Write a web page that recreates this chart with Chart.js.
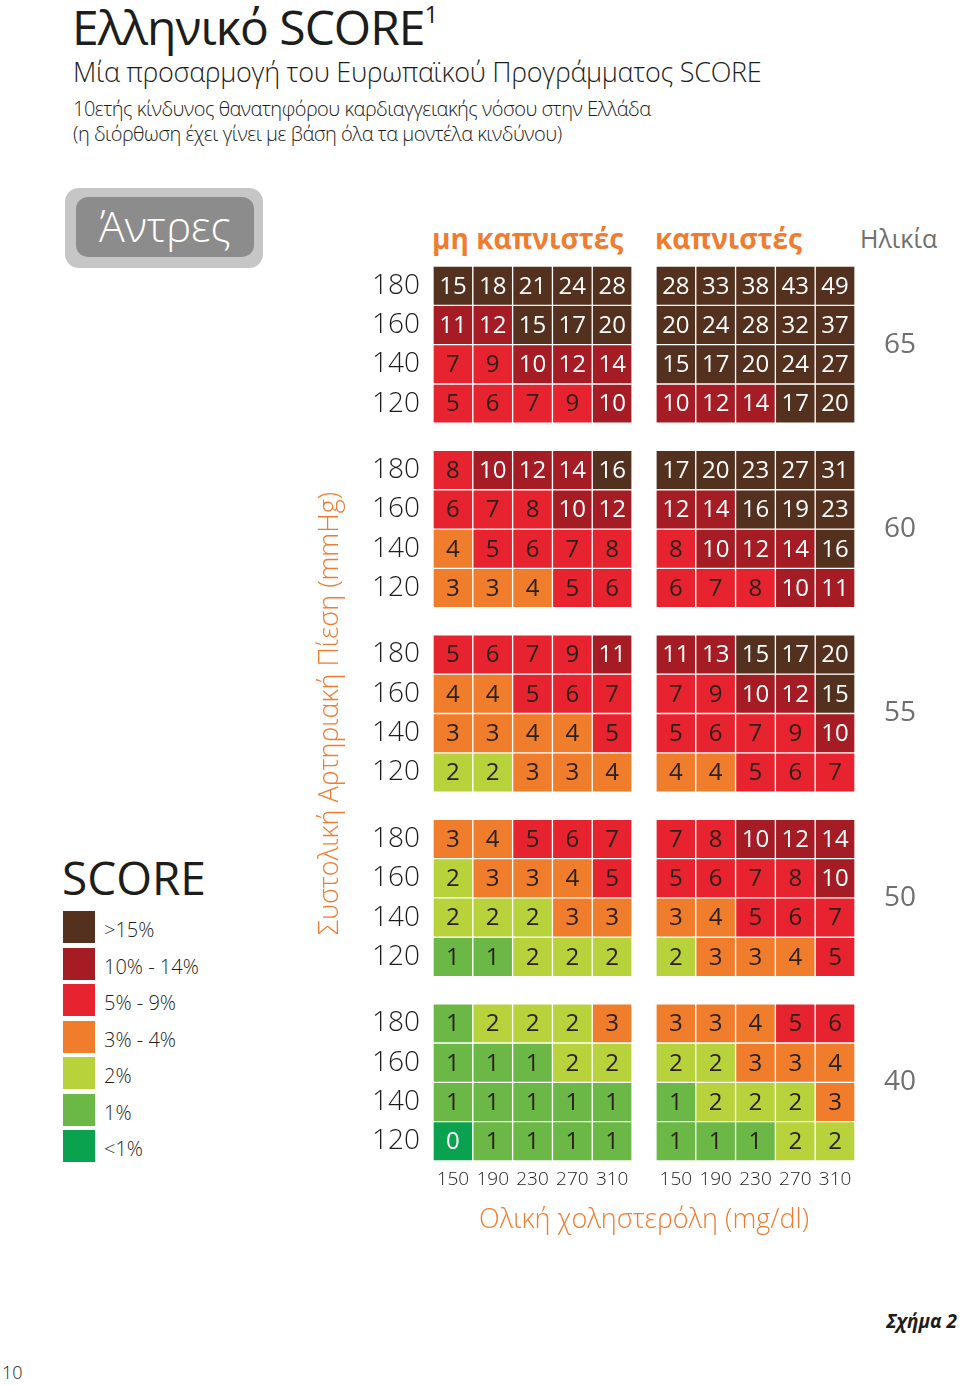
<!DOCTYPE html>
<html>
<head>
<meta charset="utf-8">
<script src="https://cdn.jsdelivr.net/npm/chart.js@4.4.1/dist/chart.umd.min.js"></script>
<style>
  body { margin: 0; background: #fff; font-family: "Open Sans", "Noto Sans", sans-serif; }
  #page { position: relative; width: 960px; height: 1385px; overflow: hidden; }
  .abs { position: absolute; white-space: nowrap; }
  #title { left: 72px; top: -6px; font-size: 48px; color: #1d1d1b; letter-spacing: -1px; }
  #title sup { font-size: 24px; vertical-align: 22px; }
  #sub1 { left: 73px; top: 53px; font-size: 27px; font-weight: 300; color: #1d1d1b; letter-spacing: -0.3px; }
  #sub2 { left: 73px; top: 96px; font-size: 20px; font-weight: 300; color: #1d1d1b; line-height: 25px; letter-spacing: -0.5px; }
  #badgeBack { left: 65px; top: 188px; width: 198px; height: 80px; border-radius: 14px; background: #c6c6c6; }
  #badge { left: 76px; top: 197px; width: 178px; height: 60px; border-radius: 12px; background: #8c8c8c;
           color: #fff; font-size: 43px; font-weight: 300; text-align: center; line-height: 58px; }
  .head { top: 219px; font-size: 28px; font-weight: 700; color: #ee7d31; }
  #age { left: 860px; top: 221px; font-size: 25px; color: #6f6f6e; }
  #scoreTitle { left: 62px; top: 846px; font-size: 46px; color: #1d1d1b; }
  #legend { left: 63px; top: 911px; }
  .li { height: 36.5px; display: flex; align-items: flex-start; }
  .sw { width: 32px; height: 32px; }
  .lt { margin-left: 9px; font-size: 20px; font-weight: 300; color: #1d1d1b; line-height: 32px; margin-top: 3px; }
  #fig { right: 3px; top: 1308px; font-size: 19px; font-weight: 700; font-style: italic; color: #1d1d1b; }
  #pageNo { left: 2px; top: 1360px; font-size: 18px; font-weight: 300; color: #1d1d1b; }
  #chartBox { position: absolute; left: 300px; top: 262px; width: 660px; height: 979px; }
</style>
</head>
<body>
<div id="page">
  <div id="title" class="abs">Ελληνικό SCORE<sup>1</sup></div>
  <div id="sub1" class="abs">Μία προσαρμογή του Ευρωπαϊκού Προγράμματος SCORE</div>
  <div id="sub2" class="abs">10ετής κίνδυνος θανατηφόρου καρδιαγγειακής νόσου στην Ελλάδα<br>(η διόρθωση έχει γίνει με βάση όλα τα μοντέλα κινδύνου)</div>
  <div id="badgeBack" class="abs"></div>
  <div id="badge" class="abs">Άντρες</div>
  <div class="abs head" style="left:432px">μη καπνιστές</div>
  <div class="abs head" style="left:655px">καπνιστές</div>
  <div id="age" class="abs">Ηλικία</div>
  <div id="scoreTitle" class="abs">SCORE</div>
  <div id="legend" class="abs"></div>
  <div id="fig" class="abs">Σχήμα 2</div>
  <div id="pageNo" class="abs">10</div>
  <div id="chartBox"><canvas id="scoreChart"></canvas></div>
</div>
<script>
// axis labels
const cholesterol = ['150', '190', '230', '270', '310'];
const systolic = ['180', '160', '140', '120'];
const ages = ['65', '60', '55', '50', '40'];

// risk values (%) per age group, rows = 180..120 mmHg, cols = 150..310 mg/dl
const nonSmokers65 = [[15, 18, 21, 24, 28], [11, 12, 15, 17, 20], [7, 9, 10, 12, 14], [5, 6, 7, 9, 10]];
const smokers65 = [[28, 33, 38, 43, 49], [20, 24, 28, 32, 37], [15, 17, 20, 24, 27], [10, 12, 14, 17, 20]];
const nonSmokers60 = [[8, 10, 12, 14, 16], [6, 7, 8, 10, 12], [4, 5, 6, 7, 8], [3, 3, 4, 5, 6]];
const smokers60 = [[17, 20, 23, 27, 31], [12, 14, 16, 19, 23], [8, 10, 12, 14, 16], [6, 7, 8, 10, 11]];
const nonSmokers55 = [[5, 6, 7, 9, 11], [4, 4, 5, 6, 7], [3, 3, 4, 4, 5], [2, 2, 3, 3, 4]];
const smokers55 = [[11, 13, 15, 17, 20], [7, 9, 10, 12, 15], [5, 6, 7, 9, 10], [4, 4, 5, 6, 7]];
const nonSmokers50 = [[3, 4, 5, 6, 7], [2, 3, 3, 4, 5], [2, 2, 2, 3, 3], [1, 1, 2, 2, 2]];
const smokers50 = [[7, 8, 10, 12, 14], [5, 6, 7, 8, 10], [3, 4, 5, 6, 7], [2, 3, 3, 4, 5]];
const nonSmokers40 = [[1, 2, 2, 2, 3], [1, 1, 1, 2, 2], [1, 1, 1, 1, 1], [0, 1, 1, 1, 1]];
const smokers40 = [[3, 3, 4, 5, 6], [2, 2, 3, 3, 4], [1, 2, 2, 2, 3], [1, 1, 1, 2, 2]];

const nonSmokers = [nonSmokers65, nonSmokers60, nonSmokers55, nonSmokers50, nonSmokers40];
const smokers = [smokers65, smokers60, smokers55, smokers50, smokers40];

// legend
const legendLabels = ['>15%', '10% - 14%', '5% - 9%', '3% - 4%', '2%', '1%', '<1%'];
const legendColors = ['#54301f', '#a61c24', '#e6232e', '#ef7d2c', '#b7d23b', '#6cb846', '#0ba24f'];

const colorFor = v => {
  if (v >= 15) return legendColors[0];
  if (v >= 10) return legendColors[1];
  if (v >= 5) return legendColors[2];
  if (v >= 3) return legendColors[3];
  if (v >= 2) return legendColors[4];
  if (v >= 1) return legendColors[5];
  return legendColors[6];
};

const legendEl = document.getElementById('legend');
legendLabels.forEach((lab, i) => {
  const row = document.createElement('div');
  row.className = 'li';
  row.innerHTML = '<div class="sw" style="background:' + legendColors[i] + '"></div><div class="lt">' + lab + '</div>';
  legendEl.appendChild(row);
});

// grid geometry (in axis units): one cell = 1 unit
const GROUP = 4.69;       // vertical pitch between age blocks
const SMOKER_SHIFT = 5.6; // horizontal offset of the smokers block
const colX = [];
for (let c = 0; c < 5; c++) colX.push(c + 0.5);
for (let c = 0; c < 5; c++) colX.push(SMOKER_SHIFT + c + 0.5);
const rowCenters = [];
ages.forEach((a, g) => systolic.forEach((s, r) => rowCenters.push(g * GROUP + r + 0.5)));
const ageCenters = ages.map((a, g) => g * GROUP + 2);
const yMax = (ages.length - 1) * GROUP + 4;

const datasets = [];
ages.forEach((age, g) => {
  systolic.forEach((bp, r) => {
    const lo = g * GROUP + r;
    const values = nonSmokers[g][r].concat(smokers[g][r]);
    datasets.push({
      label: age + ' / ' + bp,
      data: values.map((v, i) => ({ x: colX[i], y: [lo, lo + 1], v: v })),
      backgroundColor: ctx => colorFor(ctx.raw ? ctx.raw.v : 0),
      borderColor: '#ffffff',
      borderWidth: 1,
      borderSkipped: false
    });
  });
});

// numbers written inside each cell
const cellLabels = {
  id: 'cellLabels',
  afterDatasetsDraw(chart) {
    const ctx = chart.ctx;
    ctx.save();
    ctx.font = '24px "Open Sans", "Noto Sans", sans-serif';
    ctx.textAlign = 'center';
    ctx.textBaseline = 'middle';
    chart.data.datasets.forEach((ds, di) => {
      chart.getDatasetMeta(di).data.forEach((bar, i) => {
        const v = ds.data[i].v;
        const p = bar.getCenterPoint();
        ctx.fillStyle = (v >= 10 || v < 1) ? '#ffffff' : '#2b201b';
        ctx.fillText(String(v), p.x, p.y + 1);
      });
    });
    ctx.restore();
  }
};

// keep the plot area fixed: no label overhang padding
const noOverhang = s => { s.paddingTop = 0; s.paddingBottom = 0; s.paddingLeft = 0; s.paddingRight = 0; };

const orange = '#ee7d31';
const lightFont = (size) => ({ family: '"Open Sans", "Noto Sans", sans-serif', size: size, weight: 300 });

new Chart(document.getElementById('scoreChart'), {
  type: 'bar',
  data: { datasets: datasets },
  options: {
    responsive: true,
    maintainAspectRatio: false,
    animation: false,
    layout: { padding: { top: 4, left: 0, right: 0, bottom: 0 } },
    plugins: { legend: { display: false }, tooltip: { enabled: false } },
    datasets: { bar: { grouped: false, categoryPercentage: 1, barPercentage: 1 } },
    scales: {
      x: {
        type: 'linear',
        position: 'bottom',
        offset: false,
        min: 0,
        max: SMOKER_SHIFT + 5,
        grid: { display: false, drawTicks: false, offset: false },
        border: { display: false },
        afterBuildTicks: s => { s.ticks = colX.map(v => ({ value: v })); },
        afterFit: s => { s.height = 80; noOverhang(s); },
        ticks: {
          autoSkip: false,
          maxRotation: 0,
          padding: 7,
          color: '#1d1d1b',
          font: lightFont(19),
          callback: (v, i) => cholesterol[i % 5]
        },
        title: {
          display: true,
          text: 'Ολική χοληστερόλη (mg/dl)',
          color: orange,
          font: lightFont(27),
          padding: { top: 0, bottom: 4 }
        }
      },
      y: {
        type: 'linear',
        position: 'left',
        reverse: true,
        min: 0,
        max: yMax,
        grid: { display: false, drawTicks: false },
        border: { display: false },
        afterBuildTicks: s => { s.ticks = rowCenters.map(v => ({ value: v })); },
        afterFit: s => { s.width = 133; noOverhang(s); },
        ticks: {
          autoSkip: false,
          padding: 13,
          color: '#1d1d1b',
          font: lightFont(28),
          callback: (v, i) => systolic[i % 4]
        },
        title: {
          display: true,
          text: 'Συστολική Αρτηριακή Πίεση (mmHg)',
          color: orange,
          font: lightFont(27),
          padding: { top: 14, bottom: 0 }
        }
      },
      y2: {
        type: 'linear',
        position: 'right',
        reverse: true,
        min: 0,
        max: yMax,
        grid: { display: false, drawTicks: false },
        border: { display: false },
        afterBuildTicks: s => { s.ticks = ageCenters.map(v => ({ value: v })); },
        afterFit: s => { s.width = 105; noOverhang(s); },
        ticks: {
          autoSkip: false,
          padding: 29,
          color: '#6f6f6e',
          font: { family: '"Open Sans", "Noto Sans", sans-serif', size: 28 },
          callback: (v, i) => ages[i]
        }
      }
    }
  },
  plugins: [cellLabels]
});
</script>
</body>
</html>
